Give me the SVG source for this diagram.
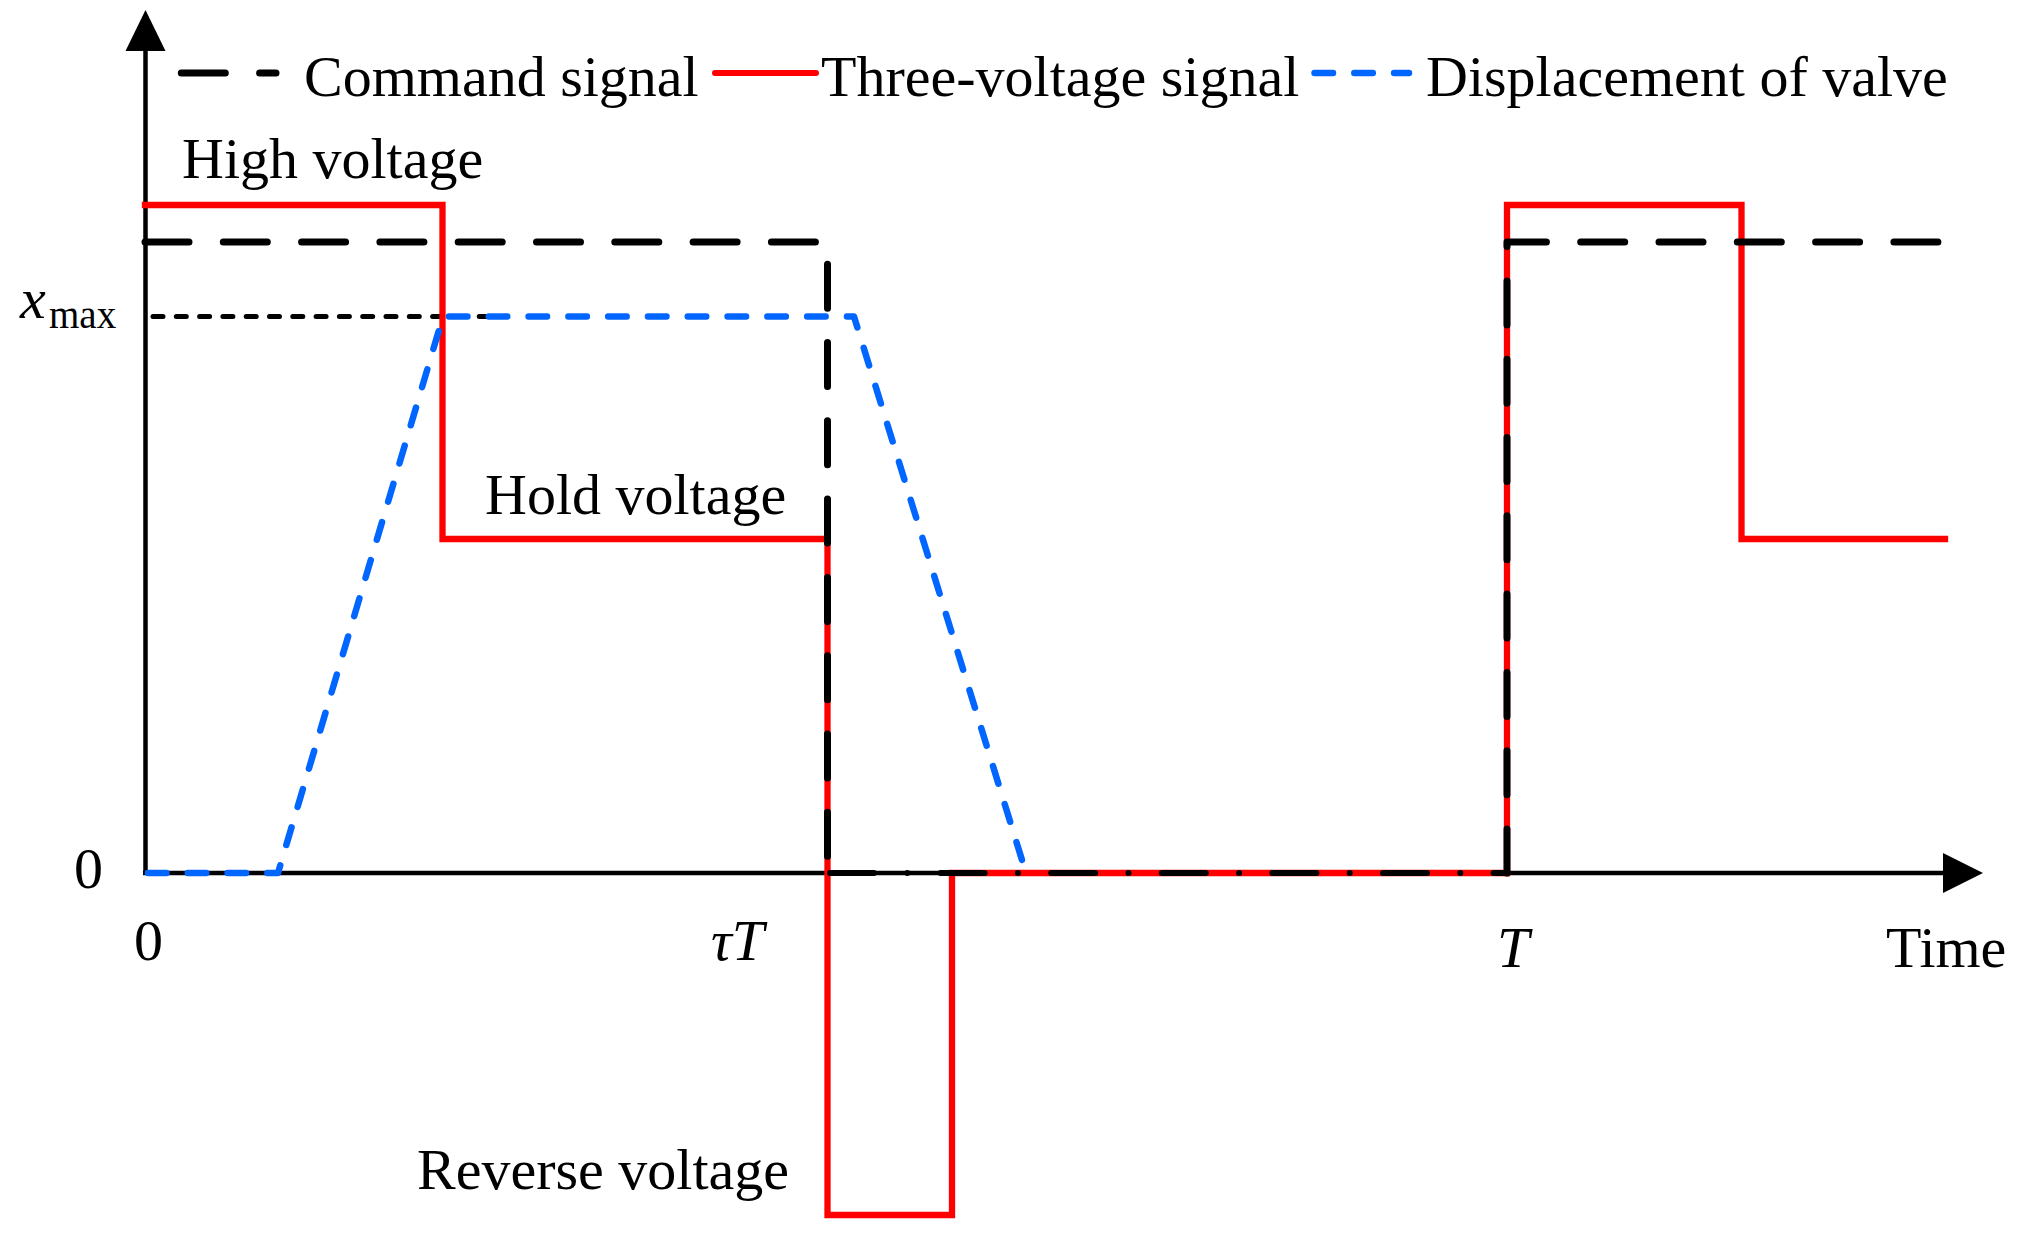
<svg xmlns="http://www.w3.org/2000/svg" width="2029" height="1240" viewBox="0 0 2029 1240">
<style>
text{font-family:"Liberation Serif","Times New Roman",serif;font-size:58px;fill:#000}
.it{font-style:italic}
.cmd{fill:none;stroke:#000;stroke-width:7;stroke-linecap:round;stroke-linejoin:round;stroke-dasharray:44 34.3}
.cmd0{fill:none;stroke:#000;stroke-width:6;stroke-linecap:round;stroke-dasharray:44 33.3 0 33.3}
.red{fill:none;stroke:#FF0000;stroke-width:6.3;stroke-linejoin:miter;stroke-linecap:square}
.blue{fill:none;stroke:#0066FF;stroke-width:6.5;stroke-linecap:round;stroke-linejoin:round;stroke-dasharray:18.5 21.3}
.dot{fill:none;stroke:#000;stroke-width:5;stroke-linecap:round;stroke-dasharray:10 13.3}
.axis{fill:none;stroke:#000;stroke-width:4.5}
</style>
<g id="axes">
<line class="axis" x1="145.5" y1="875" x2="145.5" y2="45"/>
<polygon points="145.5,10 125.5,51 165.5,51" fill="#000"/>
<line class="axis" x1="143" y1="873" x2="1948" y2="873"/>
<polygon points="1983,873 1943,853 1943,893" fill="#000"/>
</g>
<g id="connectors">
<path class="dot" d="M153,316.5 H498"/>
<path class="red" d="M145,205 H442.5 V539 H827.5 V1215 H952 V873 H1507"/>
<path class="red" d="M1507,873 V205 H1741.5 V539 H1945"/>
<path class="blue" d="M148,873 H278 L443,316.5 H854 L1026,873"/>
<path class="cmd" d="M145,242 H827.5 V873"/>
<path class="cmd0" d="M830,873 H1507"/>
<path class="cmd" d="M1507,873 V242 H1945"/>
</g>
<g id="legend">
<path class="cmd" d="M181.3,73 H276"/>
<text x="304" y="96">Command signal</text>
<line x1="715" y1="73" x2="816" y2="73" stroke="#FF0000" stroke-width="6" stroke-linecap="round"/>
<text x="821" y="96">Three-voltage signal</text>
<path class="blue" d="M1314.5,73 H1409"/>
<text x="1426" y="96">Displacement of valve</text>
</g>
<g id="labels">
<text x="182" y="178">High voltage</text>
<text x="485" y="514">Hold voltage</text>
<text x="417" y="1189">Reverse voltage</text>
<text class="it" x="20" y="318">x</text>
<text x="49" y="328" style="font-size:39px">max</text>
<text x="74" y="888">0</text>
<text x="134" y="960">0</text>
<text class="it" x="711" y="960">τT</text>
<text class="it" x="1497" y="967">T</text>
<text x="1886" y="967">Time</text>
</g>
</svg>
